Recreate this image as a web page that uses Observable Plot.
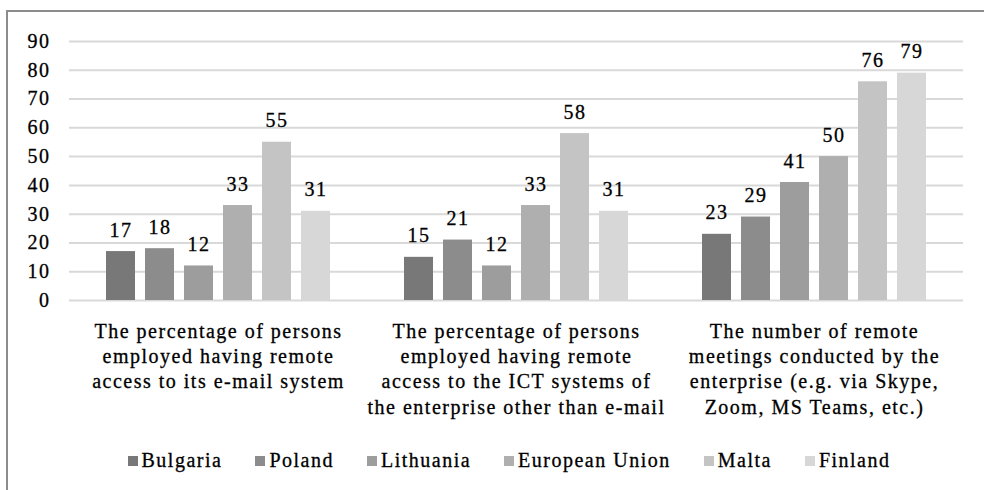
<!DOCTYPE html>
<html><head><meta charset="utf-8">
<script src="https://cdn.jsdelivr.net/npm/d3@7"></script>
<script src="https://cdn.jsdelivr.net/npm/@observablehq/plot@0.6"></script>
<style>
html,body{margin:0;padding:0;background:#fff;width:984px;height:490px;overflow:hidden;position:relative;}
#frame{position:absolute;left:6px;top:10px;width:1200px;height:800px;border-left:2px solid #8c8c8c;border-top:2px solid #8c8c8c;pointer-events:none;}
#chart{position:absolute;left:0;top:0;width:984px;}
#chart svg text{letter-spacing:1.5px;stroke:#000;stroke-width:0.3px;}
.lg-swatches{font-family:'Liberation Serif','Times New Roman',serif !important;font-size:20px !important;color:#000 !important;margin:14px 0 0 0 !important;justify-content:center !important;padding-left:34px;letter-spacing:1.5px;-webkit-text-stroke:0.3px #000;}
.lg-swatches-wrap .lg-swatch{margin-right:33px !important;}
.lg-swatches-wrap .lg-swatch:last-child{margin-right:0 !important;}
.lg-swatch > svg{margin-right:4px !important;}
</style>
</head><body>
<div id="chart"></div>
<div id="frame"></div>
<script>
const groupLabels = [
  "The percentage of persons\nemployed having remote\naccess to its e-mail system",
  "The percentage of persons\nemployed having remote\naccess to the ICT systems of\nthe enterprise other than e-mail",
  "The number of remote\nmeetings conducted by the\nenterprise (e.g. via Skype,\nZoom, MS Teams, etc.)"
];
const countries = ["Bulgaria", "Poland", "Lithuania", "European Union", "Malta", "Finland"];
const colors = ["#787878", "#8c8c8c", "#9d9d9d", "#afafaf", "#c4c4c4", "#d7d7d7"];
const bulgaria = [17, 15, 23];
const poland = [18, 21, 29];
const lithuania = [12, 12, 41];
const europeanUnion = [33, 33, 50];
const malta = [55, 58, 76];
const finland = [31, 31, 79];
const yTicks = [0, 10, 20, 30, 40, 50, 60, 70, 80, 90];

const series = [bulgaria, poland, lithuania, europeanUnion, malta, finland];
const rows = [];
groupLabels.forEach((g, i) => countries.forEach((c, j) => rows.push({group: g, country: c, value: series[j][i]})));

const font = "'Liberation Serif', 'Times New Roman', serif";
const chart = Plot.plot({
  width: 984, height: 430,
  marginLeft: 68, marginRight: 21, marginTop: 41, marginBottom: 130,
  style: {fontFamily: font, fontSize: "20px", color: "#000", background: "transparent", overflow: "visible"},
  fx: {domain: groupLabels, padding: 0, axis: null},
  x: {domain: countries, paddingInner: 0.25, paddingOuter: 0.854, axis: null},
  y: {domain: [0, 90], axis: null},
  color: {domain: countries, range: colors},
  marks: [
    Plot.gridY(yTicks, {stroke: "#d9d9d9", strokeOpacity: 1, strokeWidth: 2}),
    Plot.axisY(yTicks, {tickSize: 0, tickPadding: 19, fontSize: 20, fill: "#000", label: null}),
    Plot.barY(rows, {fx: "group", x: "country", y: "value", fill: "country"}),
    Plot.text(rows, {fx: "group", x: "country", y: "value", text: d => String(d.value), dy: -15, lineAnchor: "bottom", fontSize: 20, fill: "#000"}),
    Plot.text(groupLabels, {fx: d => d, text: d => d, frameAnchor: "bottom", lineAnchor: "top", dy: 19, lineHeight: 1.27, fontSize: 20, fill: "#000"})
  ]
});
document.getElementById("chart").append(chart);
const legend = Plot.legend({color: {domain: countries, range: colors, type: "ordinal"}, swatchSize: 10, className: "lg"});
document.getElementById("chart").append(legend);
</script>
</body></html>
